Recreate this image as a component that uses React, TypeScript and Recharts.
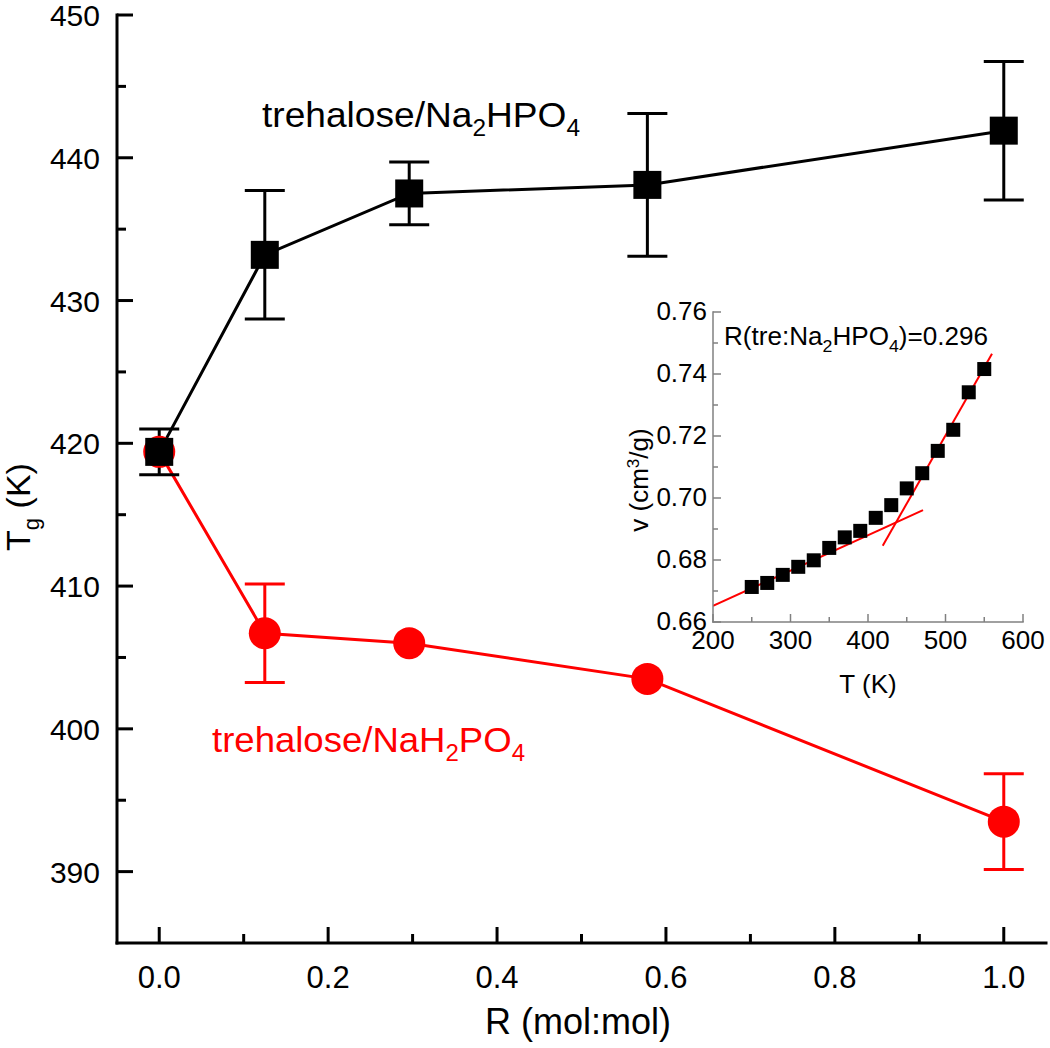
import React from 'react';
import { ComposedChart, Line, XAxis, YAxis, ErrorBar, Scatter } from 'recharts';

// ---- Main chart data ----
const R_VALUES = [0, 0.125, 0.296, 0.578, 1.0];
const TG_NA2HPO4 = [419.4, 433.2, 437.5, 438.1, 441.9];
const ERR_NA2HPO4 = [1.6, 4.5, 2.2, 5.0, 4.85];
const TG_NAH2PO4 = [419.4, 406.7, 406.0, 403.5, 393.5];
const ERR_NAH2PO4 = [0, 3.45, 0, 0, 3.35];

const X_MAJOR = [0, 0.2, 0.4, 0.6, 0.8, 1.0];
const X_MINOR = [0.1, 0.3, 0.5, 0.7, 0.9];
const Y_MAJOR = [390, 400, 410, 420, 430, 440, 450];
const Y_MINOR = [395, 405, 415, 425, 435, 445];

// ---- Inset data ----
const INSET_T = [250, 270, 290, 310, 330, 350, 370, 390, 410, 430, 450, 470, 490, 510, 530, 550];
const INSET_V = [0.6713, 0.6726, 0.6752, 0.6778, 0.6799, 0.6839, 0.6873, 0.6894, 0.6936, 0.6977, 0.7031, 0.708, 0.7152, 0.722, 0.7341, 0.7416];
const GLASS_FIT_T = [200, 471];
const GLASS_FIT_V = [0.6652, 0.6961];
const MELT_FIT_T = [419, 560];
const MELT_FIT_V = [0.6846, 0.7465];

const INSET_X_MAJOR = [200, 300, 400, 500, 600];
const INSET_X_MINOR = [250, 350, 450, 550];
const INSET_Y_MAJOR = [0.66, 0.68, 0.7, 0.72, 0.74, 0.76];
const INSET_Y_MINOR = [0.67, 0.69, 0.71, 0.73, 0.75];

const FONT = 'Liberation Sans, Arial, sans-serif';

const mainData = R_VALUES.map((r, i) => ({
  r,
  na2: TG_NA2HPO4[i],
  na2Err: ERR_NA2HPO4[i],
  nah2: TG_NAH2PO4[i],
  nah2Err: ERR_NAH2PO4[i],
}));

const insetData = INSET_T.map((t, i) => ({ t, v: INSET_V[i] }));
const glassFit = GLASS_FIT_T.map((t, i) => ({ t, v: GLASS_FIT_V[i] }));
const meltFit = MELT_FIT_T.map((t, i) => ({ t, v: MELT_FIT_V[i] }));

const isIn = (arr: number[], v: number) => arr.some((a) => Math.abs(a - v) < 1e-6);

// ---- Main ticks ----
const MainXTick = (p: any) => {
  const { x, y, payload } = p;
  const major = isIn(X_MAJOR, payload.value);
  return (
    <g>
      <line x1={x} x2={x} y1={y} y2={y - (major ? 16 : 9)} stroke="#000" strokeWidth={3} />
      {major && (
        <text x={x} y={y + 45} textAnchor="middle" fontSize={31} fontFamily={FONT} fill="#000">
          {payload.value.toFixed(1)}
        </text>
      )}
    </g>
  );
};
const MainTopTick = (p: any) => {
  const { x, y, payload } = p;
  const major = isIn(X_MAJOR, payload.value);
  return <line x1={x} x2={x} y1={y} y2={y + (major ? 16 : 9)} stroke="#000" strokeWidth={3} />;
};
const MainYTick = (p: any) => {
  const { x, y, payload } = p;
  const major = isIn(Y_MAJOR, payload.value);
  return (
    <g>
      <line x1={x} x2={x + (major ? 16 : 9)} y1={y} y2={y} stroke="#000" strokeWidth={3} />
      {major && (
        <text x={x - 17} y={y + 11} textAnchor="end" fontSize={30} fontFamily={FONT} fill="#000">
          {payload.value}
        </text>
      )}
    </g>
  );
};
const MainRightTick = (p: any) => {
  const { x, y, payload } = p;
  const major = isIn(Y_MAJOR, payload.value);
  return <line x1={x} x2={x - (major ? 16 : 9)} y1={y} y2={y} stroke="#000" strokeWidth={3} />;
};

// ---- Inset ticks ----
const GRAY = '#808080';
const InsetXTick = (p: any) => {
  const { x, y, payload } = p;
  const major = isIn(INSET_X_MAJOR, payload.value);
  return (
    <g>
      <line x1={x} x2={x} y1={y} y2={y - (major ? 8 : 5)} stroke={GRAY} strokeWidth={1.5} />
      {major && (
        <text x={x} y={y + 27} textAnchor="middle" fontSize={26} fontFamily={FONT} fill="#000">
          {payload.value}
        </text>
      )}
    </g>
  );
};
const InsetTopTick = (p: any) => {
  const { x, y, payload } = p;
  const major = isIn(INSET_X_MAJOR, payload.value);
  return <line x1={x} x2={x} y1={y} y2={y + (major ? 8 : 5)} stroke={GRAY} strokeWidth={1.5} />;
};
const InsetYTick = (p: any) => {
  const { x, y, payload } = p;
  const major = isIn(INSET_Y_MAJOR, payload.value);
  return (
    <g>
      <line x1={x} x2={x + (major ? 8 : 5)} y1={y} y2={y} stroke={GRAY} strokeWidth={1.5} />
      {major && (
        <text x={x - 6} y={y + 8} textAnchor="end" fontSize={26} fontFamily={FONT} fill="#000">
          {payload.value.toFixed(2)}
        </text>
      )}
    </g>
  );
};
const InsetRightTick = (p: any) => {
  const { x, y, payload } = p;
  const major = isIn(INSET_Y_MAJOR, payload.value);
  return <line x1={x} x2={x - (major ? 8 : 5)} y1={y} y2={y} stroke={GRAY} strokeWidth={1.5} />;
};

const mainAxisLine = { stroke: '#000', strokeWidth: 3, strokeLinecap: 'square' as const };
const insetAxisLine = { stroke: GRAY, strokeWidth: 1.5, strokeLinecap: 'square' as const };

const SquareDot = (p: any) => (
  <rect key={`sq-${p.index}`} x={p.cx - 14} y={p.cy - 14} width={28} height={28} fill="#000" />
);
const SmallSquare = (p: any) => (
  <rect x={p.cx - 7} y={p.cy - 7} width={14} height={14} fill="#000" />
);

export default function App() {
  const xTicks = [...X_MAJOR, ...X_MINOR].sort((a, b) => a - b);
  const yTicks = [...Y_MAJOR, ...Y_MINOR].sort((a, b) => a - b);
  const ixTicks = [...INSET_X_MAJOR, ...INSET_X_MINOR].sort((a, b) => a - b);
  const iyTicks = [...INSET_Y_MAJOR, ...INSET_Y_MINOR].sort((a, b) => a - b);

  return (
    <div style={{ position: 'absolute', left: 0, top: 0, width: 1050, height: 1048, background: '#fff' }}>
      <div style={{ position: 'absolute', left: 0, top: 0 }}>
        <ComposedChart width={1050} height={1048} data={mainData} margin={{ top: 15, right: 4, bottom: 0, left: 0 }}>
          <XAxis
            xAxisId="b"
            dataKey="r"
            type="number"
            domain={[-0.05, 1.05]}
            ticks={xTicks}
            interval={0}
            height={105}
            tickSize={0}
            tickMargin={0}
            tickLine={false}
            axisLine={mainAxisLine}
            tick={(p: any) => <MainXTick {...p} />}
            allowDataOverflow
          />
          <XAxis
            xAxisId="t"
            orientation="top"
            dataKey="r"
            type="number"
            domain={[-0.05, 1.05]}
            ticks={xTicks}
            interval={0}
            height={0}
            tickSize={0}
            tickMargin={0}
            tickLine={false}
            axisLine={mainAxisLine}
            tick={(p: any) => <MainTopTick {...p} />}
            allowDataOverflow
          />
          <YAxis
            yAxisId="l"
            type="number"
            domain={[385, 450]}
            ticks={yTicks}
            interval={0}
            width={117}
            tickSize={0}
            tickMargin={0}
            tickLine={false}
            axisLine={mainAxisLine}
            tick={(p: any) => <MainYTick {...p} />}
            allowDataOverflow
          />
          <YAxis
            yAxisId="r"
            orientation="right"
            type="number"
            domain={[385, 450]}
            ticks={yTicks}
            interval={0}
            width={0}
            tickSize={0}
            tickMargin={0}
            tickLine={false}
            axisLine={mainAxisLine}
            tick={(p: any) => <MainRightTick {...p} />}
            allowDataOverflow
          />
          <Line
            xAxisId="b"
            yAxisId="l"
            dataKey="nah2"
            stroke="#ff0000"
            strokeWidth={3}
            dot={{ r: 16, fill: '#ff0000', stroke: 'none' }}
            activeDot={false}
            isAnimationActive={false}
          >
            <ErrorBar dataKey="nah2Err" width={20} strokeWidth={3} stroke="#ff0000" direction="y" />
          </Line>
          <Line
            xAxisId="b"
            yAxisId="l"
            dataKey="na2"
            stroke="#000"
            strokeWidth={3}
            dot={SquareDot}
            activeDot={false}
            isAnimationActive={false}
          >
            <ErrorBar dataKey="na2Err" width={20} strokeWidth={3} stroke="#000" direction="y" />
          </Line>
        </ComposedChart>
      </div>

      <div style={{ position: 'absolute', left: 620, top: 280 }}>
        <ComposedChart width={430} height={420} margin={{ top: 32, right: 27, bottom: 0, left: 0 }}>
          <XAxis
            xAxisId="b"
            dataKey="t"
            type="number"
            domain={[200, 600]}
            ticks={ixTicks}
            interval={0}
            height={78}
            tickSize={0}
            tickMargin={0}
            tickLine={false}
            axisLine={insetAxisLine}
            tick={(p: any) => <InsetXTick {...p} />}
            allowDataOverflow
          />
          <XAxis
            xAxisId="t"
            orientation="top"
            dataKey="t"
            type="number"
            domain={[200, 600]}
            ticks={ixTicks}
            interval={0}
            height={0}
            tickSize={0}
            tickMargin={0}
            tickLine={false}
            axisLine={insetAxisLine}
            tick={(p: any) => <InsetTopTick {...p} />}
            allowDataOverflow
          />
          <YAxis
            yAxisId="l"
            type="number"
            domain={[0.66, 0.76]}
            ticks={iyTicks}
            interval={0}
            width={93}
            tickSize={0}
            tickMargin={0}
            tickLine={false}
            axisLine={insetAxisLine}
            tick={(p: any) => <InsetYTick {...p} />}
            allowDataOverflow
          />
          <YAxis
            yAxisId="r"
            orientation="right"
            type="number"
            domain={[0.66, 0.76]}
            ticks={iyTicks}
            interval={0}
            width={0}
            tickSize={0}
            tickMargin={0}
            tickLine={false}
            axisLine={insetAxisLine}
            tick={(p: any) => <InsetRightTick {...p} />}
            allowDataOverflow
          />
          <Scatter
            xAxisId="b"
            yAxisId="l"
            data={insetData}
            dataKey="v"
            shape={SmallSquare}
            isAnimationActive={false}
          />
          <Line
            xAxisId="b"
            yAxisId="l"
            data={glassFit}
            dataKey="v"
            stroke="#ff0000"
            strokeWidth={2}
            dot={false}
            activeDot={false}
            isAnimationActive={false}
          />
          <Line
            xAxisId="b"
            yAxisId="l"
            data={meltFit}
            dataKey="v"
            stroke="#ff0000"
            strokeWidth={2}
            dot={false}
            activeDot={false}
            isAnimationActive={false}
          />
        </ComposedChart>
      </div>

      <svg
        width={1050}
        height={1048}
        style={{ position: 'absolute', left: 0, top: 0, pointerEvents: 'none' }}
        fontFamily={FONT}
      >
        {/* main axis titles */}
        <text x={578} y={1034} textAnchor="middle" fontSize={36} fill="#000">
          R (mol:mol)
        </text>
        <text transform="translate(30,507) rotate(-90)" textAnchor="middle" fontSize={34} fill="#000">
          T<tspan dy={9} fontSize={22}>g</tspan>
          <tspan dy={-9}> (K)</tspan>
        </text>
        {/* series annotations */}
        <text x={262} y={127} fontSize={35} fill="#000" textLength={318} lengthAdjust="spacingAndGlyphs">
          trehalose/Na<tspan dy={9} fontSize={23}>2</tspan>
          <tspan dy={-9}>HPO</tspan>
          <tspan dy={9} fontSize={23}>4</tspan>
        </text>
        <text x={212} y={752} fontSize={35} fill="#ff0000" textLength={313} lengthAdjust="spacingAndGlyphs">
          trehalose/NaH<tspan dy={9} fontSize={23}>2</tspan>
          <tspan dy={-9}>PO</tspan>
          <tspan dy={9} fontSize={23}>4</tspan>
        </text>
        {/* inset titles */}
        <text x={868} y={693} textAnchor="middle" fontSize={26} fill="#000">
          T (K)
        </text>
        <text transform="translate(648,480) rotate(-90)" textAnchor="middle" fontSize={26} fill="#000">
          v (cm<tspan dy={-9} fontSize={17}>3</tspan>
          <tspan dy={9}>/g)</tspan>
        </text>
        <text x={724} y={345} fontSize={25} fill="#000" textLength={264} lengthAdjust="spacingAndGlyphs">
          R(tre:Na<tspan dy={7} fontSize={17}>2</tspan>
          <tspan dy={-7}>HPO</tspan>
          <tspan dy={7} fontSize={17}>4</tspan>
          <tspan dy={-7}>)=0.296</tspan>
        </text>
      </svg>
    </div>
  );
}
